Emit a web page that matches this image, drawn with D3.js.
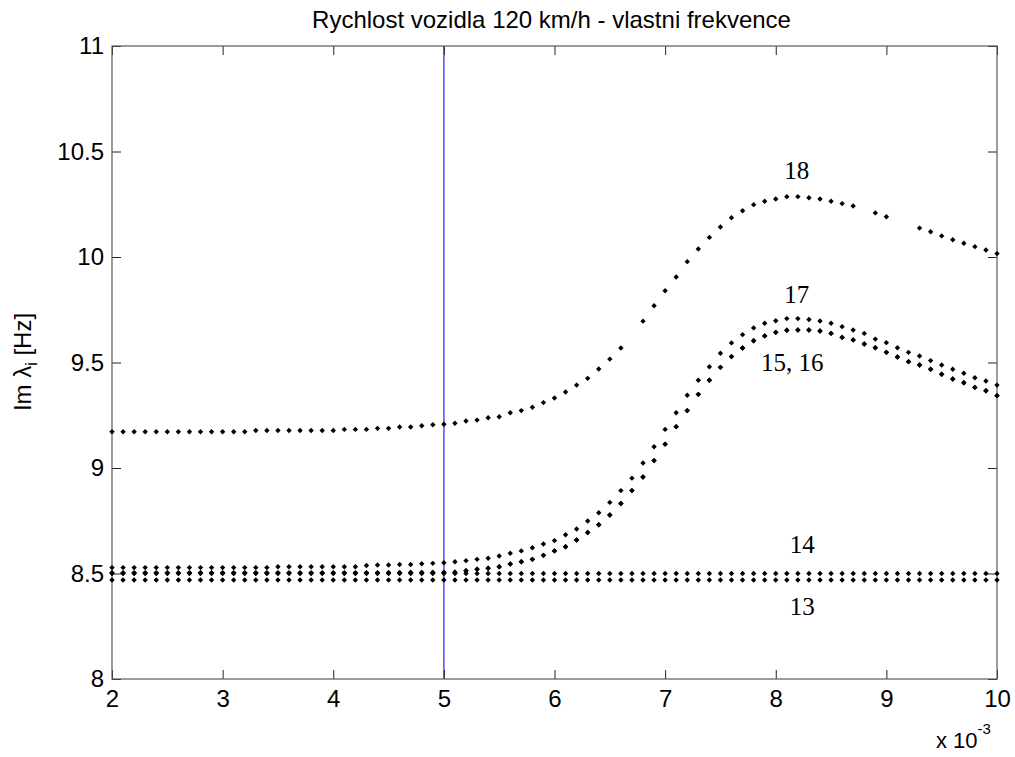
<!DOCTYPE html>
<html>
<head>
<meta charset="utf-8">
<script src="https://cdn.jsdelivr.net/npm/d3@7/dist/d3.min.js"></script>
<style>
  html, body { margin: 0; padding: 0; background: #fff; }
  svg { display: block; }
</style>
</head>
<body>
<svg id="chart" width="1015" height="757"></svg>
<script>
// ---------------- data ----------------
const xs = [2.0,2.1,2.2,2.3,2.4,2.5,2.6,2.7,2.8,2.9,3.0,3.1,3.2,3.3,3.4,3.5,3.6,3.7,3.8,3.9,
            4.0,4.1,4.2,4.3,4.4,4.5,4.6,4.7,4.8,4.9,5.0,5.1,5.2,5.3,5.4,5.5,5.6,5.7,5.8,5.9,
            6.0,6.1,6.2,6.3,6.4,6.5,6.6,6.7,6.8,6.9,7.0,7.1,7.2,7.3,7.4,7.5,7.6,7.7,7.8,7.9,
            8.0,8.1,8.2,8.3,8.4,8.5,8.6,8.7,8.8,8.9,9.0,9.1,9.2,9.3,9.4,9.5,9.6,9.7,9.8,9.9,10.0];

const s13 = [8.469,8.469,8.469,8.469,8.469,8.469,8.469,8.469,8.469,8.469,8.469,8.469,8.469,8.469,8.469,8.469,8.469,8.469,8.469,8.469,
             8.469,8.469,8.469,8.469,8.469,8.469,8.469,8.469,8.469,8.469,8.469,8.469,8.469,8.469,8.469,8.469,8.469,8.469,8.469,8.469,
             8.469,8.469,8.469,8.469,8.469,8.469,8.469,8.469,8.469,8.469,8.469,8.469,8.469,8.469,8.469,8.469,8.469,8.469,8.469,8.469,
             8.469,8.469,8.469,8.469,8.469,8.469,8.469,8.469,8.469,8.469,8.469,8.469,8.469,8.469,8.469,8.469,8.469,8.469,8.469,8.469,8.469];

const s14 = [8.500,8.500,8.500,8.500,8.500,8.500,8.500,8.500,8.500,8.500,8.500,8.500,8.500,8.500,8.500,8.500,8.500,8.500,8.500,8.500,
             8.500,8.500,8.500,8.500,8.500,8.500,8.500,8.500,8.500,8.500,8.500,8.500,8.500,8.500,8.500,8.500,8.500,8.500,8.500,8.500,
             8.500,8.500,8.500,8.500,8.500,8.500,8.500,8.500,8.500,8.500,8.500,8.500,8.500,8.500,8.500,8.500,8.500,8.500,8.500,8.500,
             8.500,8.500,8.500,8.500,8.500,8.500,8.500,8.500,8.500,8.500,8.500,8.500,8.500,8.500,8.500,8.500,8.500,8.500,8.500,8.500,8.500];

// 15 and 16 coincide
const s15 = [8.503,8.503,8.503,8.503,8.503,8.503,8.503,8.503,8.503,8.503,8.503,8.503,8.503,8.503,8.503,8.503,8.503,8.503,8.503,8.503,
             8.503,8.503,8.503,8.503,8.503,8.504,8.504,8.505,8.505,8.505,8.505,8.506,8.513,8.520,8.525,8.532,8.545,8.556,8.567,8.586,
             8.607,8.627,8.659,8.694,8.731,8.777,8.832,8.893,8.957,9.035,9.113,9.196,9.272,9.349,9.416,9.477,9.528,9.569,9.603,9.626,
             9.643,9.653,9.654,9.654,9.649,9.638,9.619,9.607,9.588,9.570,9.548,9.526,9.504,9.488,9.468,9.444,9.422,9.404,9.382,9.366,9.343];
const s16 = [8.503,8.503,8.503,8.503,8.503,8.503,8.503,8.503,8.503,8.503,8.503,8.503,8.503,8.503,8.503,8.503,8.503,8.503,8.503,8.503,
             8.503,8.503,8.503,8.503,8.503,8.504,8.504,8.505,8.505,8.505,8.505,8.506,8.513,8.520,8.525,8.532,8.545,8.556,8.567,8.586,
             8.607,8.627,8.659,8.694,8.731,8.777,8.832,8.893,8.957,9.035,9.113,9.196,9.272,9.349,9.416,9.477,9.528,9.569,9.603,9.626,
             9.643,9.653,9.654,9.654,9.649,9.638,9.619,9.607,9.588,9.570,9.548,9.526,9.504,9.488,9.468,9.444,9.422,9.404,9.382,9.366,9.343];

const s17 = [8.528,8.528,8.528,8.528,8.528,8.528,8.528,8.528,8.528,8.528,8.528,8.528,8.528,8.528,8.528,8.532,8.532,8.532,8.532,8.532,
             8.532,8.532,8.532,8.538,8.540,8.540,8.543,8.543,8.546,8.548,8.551,8.556,8.561,8.567,8.572,8.583,8.596,8.607,8.622,8.640,
             8.656,8.684,8.711,8.749,8.788,8.837,8.893,8.952,9.024,9.101,9.183,9.262,9.345,9.416,9.480,9.544,9.593,9.632,9.664,9.686,
             9.698,9.708,9.708,9.704,9.697,9.686,9.670,9.654,9.638,9.611,9.594,9.570,9.548,9.531,9.509,9.488,9.468,9.449,9.428,9.412,9.393];

const s18 = [9.172,9.172,9.172,9.172,9.172,9.172,9.172,9.172,9.172,9.172,9.172,9.172,9.172,9.178,9.178,9.178,9.178,9.178,9.178,9.178,
             9.178,9.183,9.183,9.183,9.188,9.188,9.194,9.194,9.200,9.205,9.207,9.212,9.223,9.227,9.238,9.243,9.262,9.272,9.288,9.310,
             9.332,9.360,9.393,9.425,9.469,9.516,9.569,null,9.696,9.769,9.840,9.905,9.978,10.038,10.093,10.142,10.186,10.219,10.248,10.264,
             10.275,10.286,10.286,10.281,10.275,10.264,10.253,10.242,null,10.209,10.191,null,null,10.137,10.120,10.100,10.082,10.065,10.049,10.033,10.016];

const seriesList = [s13, s14, s15, s16, s17, s18];

const xTicks = [2,3,4,5,6,7,8,9,10];
const yTicks = [8,8.5,9,9.5,10,10.5,11];
const markerX = 5;

// curve labels: [text, x (data), y (data, baseline)]
const labelText = ["18", "17", "15, 16", "14", "13"];
const labelX    = [8.19, 8.19, 8.15, 8.24, 8.24];
const labelY    = [10.370, 9.782, 9.460, 8.597, 8.303];

const titleText = "Rychlost vozidla 120 km/h - vlastni frekvence";

// ---------------- drawing ----------------
const svg = d3.select("#chart");
const L = 112, R = 997, T = 46, B = 679;

const x = d3.scaleLinear().domain([2, 10]).range([L, R]);
const y = d3.scaleLinear().domain([8, 11]).range([B, T]);

const sans = "'Liberation Sans', Arial, Helvetica, sans-serif";
const serif = "'Liberation Serif', 'Times New Roman', serif";

svg.append("rect").attr("width", 1015).attr("height", 757).attr("fill", "#fff");

// vertical blue line
svg.append("line")
  .attr("x1", x(markerX)).attr("x2", x(markerX))
  .attr("y1", y(11)).attr("y2", y(8))
  .attr("stroke", "#6a6aff").attr("stroke-width", 1.8);

function styleAxis(g) {
  g.select(".domain").remove();
  g.selectAll(".tick line").attr("stroke", "#222").attr("stroke-width", 1);
  g.selectAll(".tick text").attr("fill", "#000").style("font-family", sans).style("font-size", "24px");
}

svg.append("g").attr("transform", `translate(0,${B})`)
  .call(d3.axisBottom(x).tickValues(xTicks).tickFormat(d3.format("d")).tickSizeInner(-9).tickSizeOuter(0).tickPadding(11))
  .call(styleAxis);
svg.append("g").attr("transform", `translate(0,${T})`)
  .call(d3.axisTop(x).tickValues(xTicks).tickFormat("").tickSizeInner(-9).tickSizeOuter(0))
  .call(styleAxis);
svg.append("g").attr("transform", `translate(${L},0)`)
  .call(d3.axisLeft(y).tickValues(yTicks).tickFormat(d => String(d)).tickSizeInner(-9).tickSizeOuter(0).tickPadding(8))
  .call(styleAxis);
svg.append("g").attr("transform", `translate(${R},0)`)
  .call(d3.axisRight(y).tickValues(yTicks).tickFormat("").tickSizeInner(-9).tickSizeOuter(0))
  .call(styleAxis);

svg.append("rect")
  .attr("x", L).attr("y", T).attr("width", R - L).attr("height", B - T)
  .attr("fill", "none").attr("stroke", "#5a5a5a").attr("stroke-width", 1.2);

// points
const pts = [];
seriesList.forEach(s => s.forEach((v, i) => { if (v !== null) pts.push([xs[i], v]); }));
svg.append("g").selectAll("path").data(pts).join("path")
  .attr("transform", d => `translate(${x(d[0])},${y(d[1])})`)
  .attr("d", "M0,-2.7L2.7,0L0,2.7L-2.7,0Z")
  .attr("fill", "#000");

// curve labels
svg.append("g").selectAll("text").data(labelText).join("text")
  .attr("x", (d, i) => x(labelX[i]))
  .attr("y", (d, i) => y(labelY[i]))
  .attr("text-anchor", "middle")
  .style("font-family", serif).style("font-size", "25px").attr("fill", "#000")
  .text(d => d);

// title
svg.append("text")
  .attr("x", (L + R) / 2 - 3).attr("y", 28)
  .attr("text-anchor", "middle")
  .style("font-family", sans).style("font-size", "24px").attr("fill", "#000")
  .text(titleText);

// y label
const yl = svg.append("text")
  .attr("transform", `translate(31,${(T + B) / 2 - 0.5}) rotate(-90)`)
  .attr("text-anchor", "middle")
  .style("font-family", sans).style("font-size", "24px").attr("fill", "#000");
yl.append("tspan").text("Im \u03BB");
yl.append("tspan").attr("dy", 6).style("font-size", "16px").text("i");
yl.append("tspan").attr("dy", -6).text(" [Hz]");

// exponent label
const ex = svg.append("text")
  .attr("x", 936).attr("y", 748)
  .style("font-family", sans).style("font-size", "22px").attr("fill", "#000");
ex.append("tspan").text("x 10");
ex.append("tspan").attr("dy", -14).style("font-size", "15px").text("-3");
</script>
</body>
</html>
